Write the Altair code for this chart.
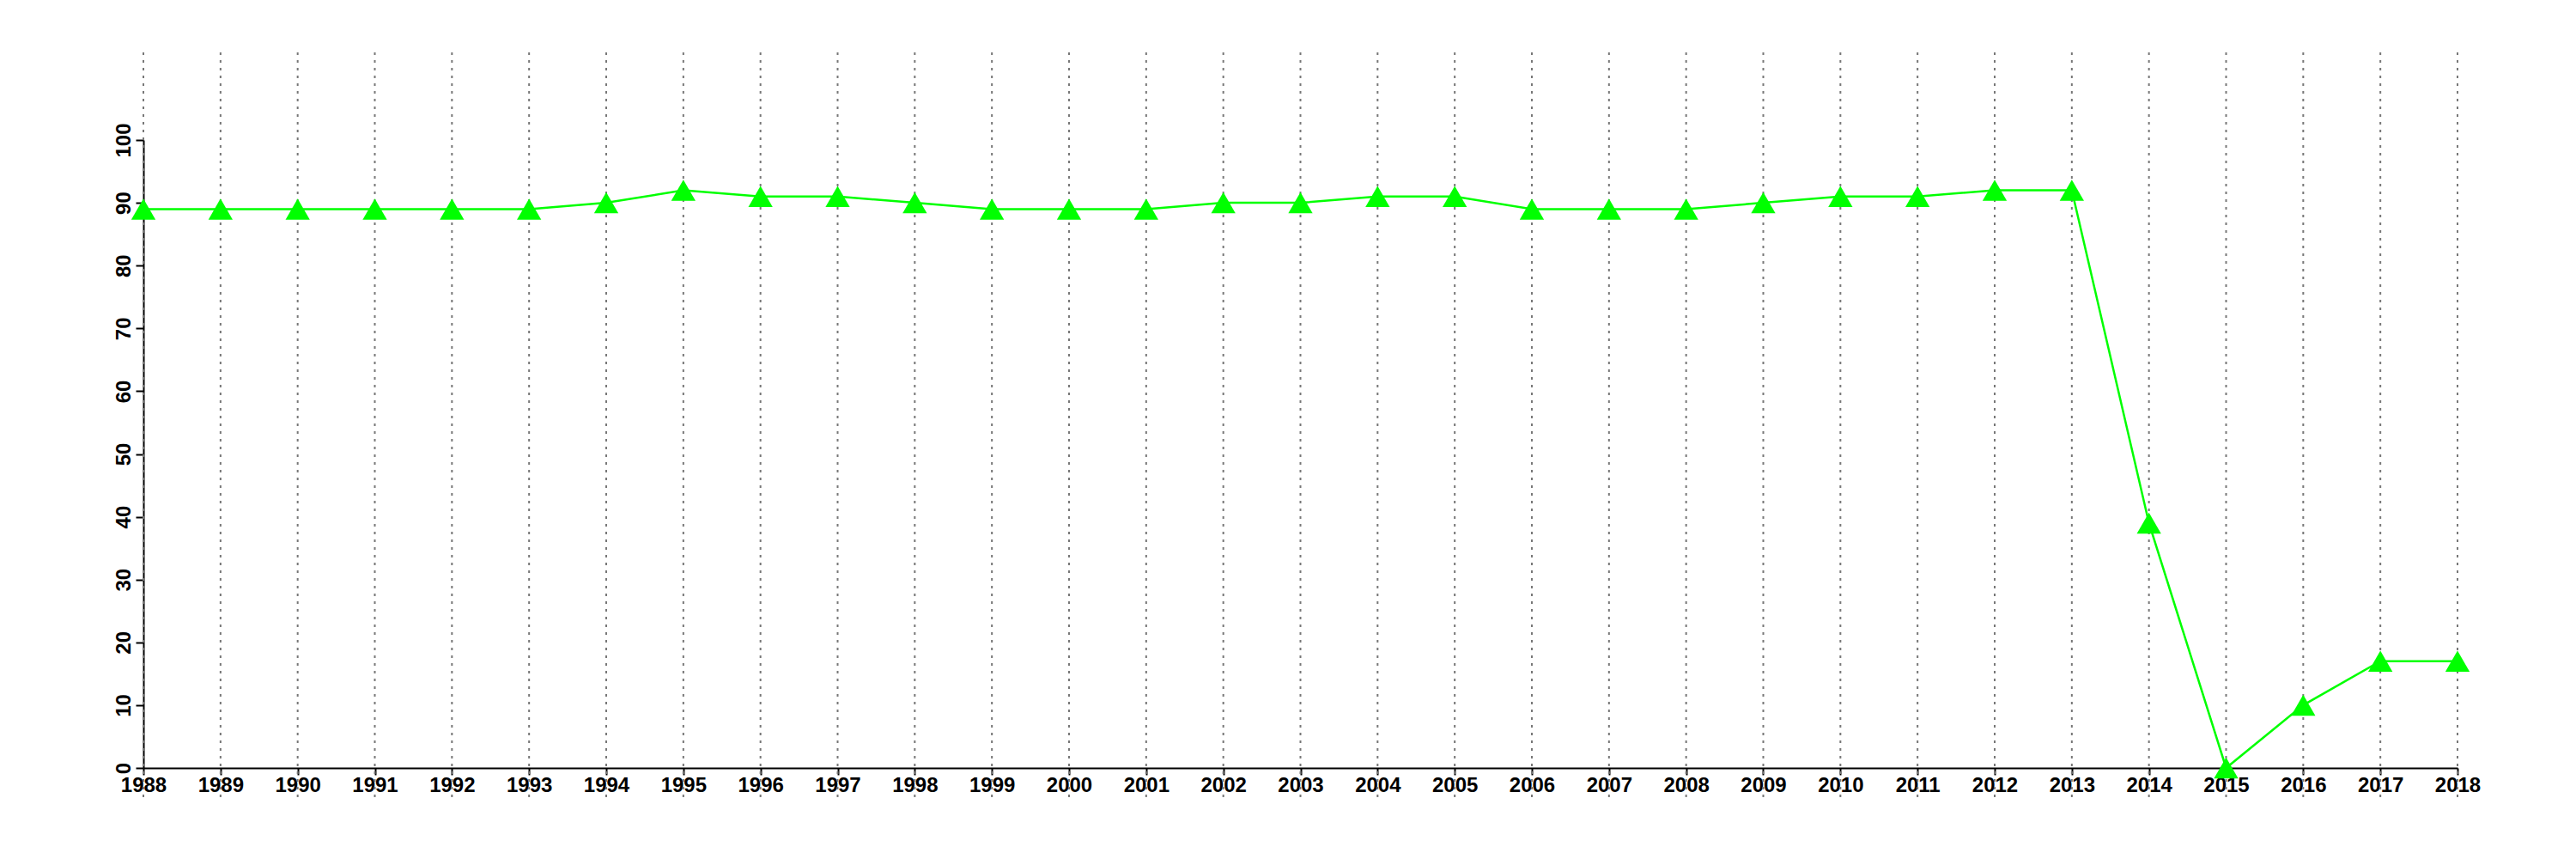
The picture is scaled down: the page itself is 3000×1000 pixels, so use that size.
import altair as alt
import pandas as pd

years = list(range(1988, 2019))
values = [89, 89, 89, 89, 89, 89, 90, 92, 91, 91, 90, 89, 89, 89, 90, 90,
          91, 91, 89, 89, 89, 90, 91, 91, 92, 92, 39, 0, 10, 17, 17]
y_ticks = [0, 10, 20, 30, 40, 50, 60, 70, 80, 90, 100]

df = pd.DataFrame({"year": years, "value": values})

FONT = "Liberation Sans"

x_scale = alt.Scale(domain=[1988, 2018], nice=False, zero=False)
y_scale = alt.Scale(domain=[0, 100], nice=False)

grid = alt.Chart(df).mark_rule(
    color="#777777", strokeWidth=2, strokeDash=[3, 6]
).encode(
    x=alt.X("year:Q", scale=x_scale),
    y=alt.datum(-4.65, scale=y_scale),
    y2=alt.datum(114.1),
)

line = alt.Chart(df).mark_line(color="#00ff00", strokeWidth=2.5).encode(
    x=alt.X(
        "year:Q",
        scale=x_scale,
        axis=alt.Axis(
            values=years, format="d", title=None, grid=False,
            labelFont=FONT, labelFontSize=24, labelFontWeight="bold",
            labelColor="black",
            tickSize=8, tickWidth=2, tickColor="black",
            domainColor="black", domainWidth=2,
            labelPadding=0, labelFlush=False, labelOverlap=False,
        ),
    ),
    y=alt.Y(
        "value:Q",
        scale=y_scale,
        axis=alt.Axis(
            values=y_ticks, title=None, grid=False,
            labelFont=FONT, labelFontSize=24, labelFontWeight="bold",
            labelColor="black",
            labelAngle=270, labelAlign="center", labelBaseline="bottom",
            tickSize=9, tickWidth=2, tickColor="black",
            domainColor="black", domainWidth=2,
            labelPadding=2, labelFlush=False, labelOverlap=False,
        ),
    ),
)

points = alt.Chart(df).mark_point(
    shape="triangle-up", filled=True, color="#00ff00", size=800, opacity=1
).encode(
    x=alt.X("year:Q", scale=x_scale),
    y=alt.Y("value:Q", scale=y_scale),
)

chart = alt.layer(grid, line, points).properties(
    width=2695, height=731,
    background="white",
    autosize=alt.AutoSizeParams(type="none"),
    padding={"left": 159, "top": 155, "right": 130, "bottom": 90},
).configure_view(stroke=None)

chart.save("out.html", embed_options={"renderer": "svg", "actions": False})
